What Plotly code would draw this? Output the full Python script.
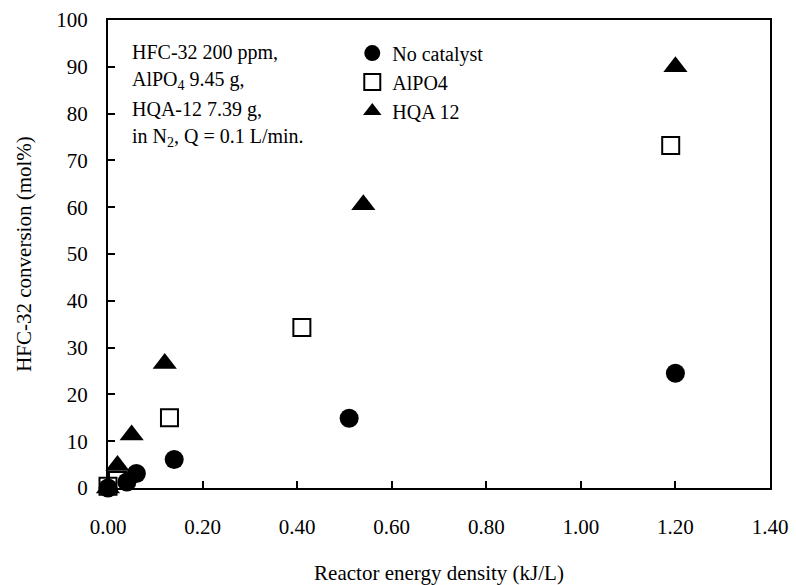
import plotly.graph_objects as go

# Data
none_x = [0.0, 0.04, 0.06, 0.14, 0.51, 1.20]
none_y = [0.0, 1.3, 3.1, 6.1, 14.9, 24.5]

alpo_x = [0.0, 0.02, 0.13, 0.41, 1.19]
alpo_y = [0.4, 1.6, 15.0, 34.3, 73.2]

hqa_x = [0.0, 0.02, 0.05, 0.12, 0.54, 1.20]
hqa_y = [0.0, 4.8, 11.3, 26.6, 60.5, 90.0]

x_ticks = [0.0, 0.2, 0.4, 0.6, 0.8, 1.0, 1.2, 1.4]
y_ticks = [0, 10, 20, 30, 40, 50, 60, 70, 80, 90, 100]

note_lines = [
    "HFC-32 200 ppm,",
    "AlPO<sub>4</sub> 9.45 g,",
    "HQA-12 7.39 g,",
    "in N<sub>2</sub>, Q = 0.1 L/min.",
]

FONT = "Liberation Serif"
FS = 21

fig = go.Figure()
fig.add_trace(go.Scatter(x=none_x, y=none_y, mode="markers", name="No catalyst",
                         marker=dict(symbol="circle", size=19, color="black"),
                         cliponaxis=False))
fig.add_trace(go.Scatter(x=alpo_x, y=alpo_y, mode="markers", name="AlPO4",
                         marker=dict(symbol="square-open", size=17, color="black",
                                     line=dict(width=2, color="black")),
                         cliponaxis=False))
fig.add_trace(go.Scatter(x=hqa_x, y=hqa_y, mode="markers", name="HQA 12",
                         marker=dict(symbol="triangle-up", size=21, color="black"),
                         cliponaxis=False))

note_y = [0.9316, 0.8697, 0.8077, 0.75]
for txt, yy in zip(note_lines, note_y):
    fig.add_annotation(
        xref="paper", yref="paper", x=0.033, y=yy, xanchor="left", yanchor="middle",
        align="left", showarrow=False, text=txt,
        font=dict(family=FONT, size=20, color="black"),
    )

axis_common = dict(
    showline=True, linecolor="black", linewidth=2, mirror=True,
    ticks="inside", ticklen=7, tickwidth=1.5, tickcolor="black",
    showgrid=False, zeroline=False, automargin=False,
    tickfont=dict(family=FONT, size=FS, color="black"),
    title_font=dict(family=FONT, size=FS, color="black"),
)

fig.update_xaxes(range=[0, 1.4], tickvals=x_ticks, tickformat=".2f",
                 title_text="Reactor energy density (kJ/L)", title_standoff=27,
                 ticklabelstandoff=19, **axis_common)
fig.update_yaxes(range=[0, 100], tickvals=y_ticks,
                 title_text="HFC-32 conversion (mol%)", title_standoff=19,
                 ticklabelstandoff=14, **axis_common)

fig.update_layout(
    width=796, height=585,
    margin=dict(l=108, r=26, t=20, b=97),
    paper_bgcolor="white", plot_bgcolor="white",
    font=dict(family=FONT, size=FS, color="black"),
    showlegend=True,
    legend=dict(x=0.369, y=0.971, xanchor="left", yanchor="top",
                bgcolor="rgba(0,0,0,0)", tracegroupgap=0,
                font=dict(family=FONT, size=20, color="black"),
                itemsizing="trace"),
)

fig.write_html("out.html")
